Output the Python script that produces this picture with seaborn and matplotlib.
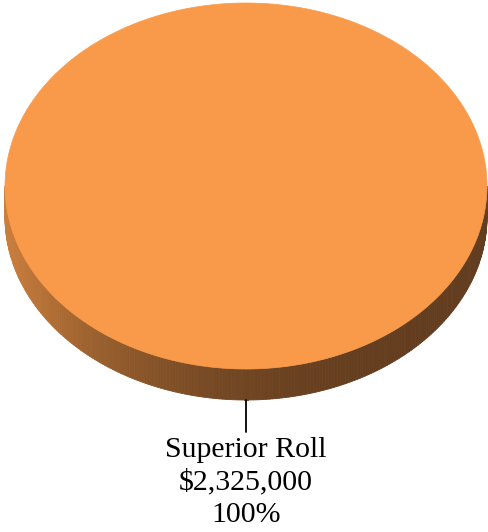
import numpy as np
import matplotlib
matplotlib.use("Agg")
import matplotlib.pyplot as plt
from matplotlib.patches import Polygon
import seaborn as sns

# data
labels = ["Superior Roll"]
values = [2325000]
top_colors = ["#F99A4A"]

sns.set_theme(style="white")
plt.rcParams["font.family"] = ["Liberation Serif", "DejaVu Serif"]

fig = plt.figure(figsize=(4.89, 5.32), dpi=100)
ax = fig.add_axes([0, 0, 1, 1])
ax.set_xlim(0, 489)
ax.set_ylim(0, 532)
ax.axis("off")

# pie geometry (pixels, y up)
cx, cy = 246, 346
rx, ry = 241, 183
depth = 31

total = float(sum(values))
fracs = [v / total for v in values]
starts = np.cumsum([0] + fracs[:-1]) * 360

def side_shade(theta):
    # lighter on the left, darker toward the right
    t = (1 - np.cos(np.radians(theta))) / 2  # 1 at left, 0 at right
    dark = np.array([0.39, 0.24, 0.12])
    light = np.array([0.80, 0.50, 0.24])
    w = t ** 3
    return tuple(dark * (1 - w) + light * w)

for frac, st, col in zip(fracs, starts, top_colors):
    a0, a1 = st, st + frac * 360
    # front side wall (angles in 180..360)
    lo, hi = max(a0, 180), min(a1, 360)
    if hi > lo:
        th = np.linspace(lo, hi, 240)
        for i in range(len(th) - 1):
            t0, t1 = np.radians(th[i]), np.radians(th[i + 1])
            x0, y0 = cx + rx * np.cos(t0), cy + ry * np.sin(t0)
            x1, y1 = cx + rx * np.cos(t1), cy + ry * np.sin(t1)
            quad = [(x0, y0), (x1, y1), (x1, y1 - depth), (x0, y0 - depth)]
            c = side_shade((th[i] + th[i + 1]) / 2)
            ax.add_patch(Polygon(quad, closed=True, facecolor=c,
                                 edgecolor=c, linewidth=0.6))
    # top face
    th = np.radians(np.linspace(a0, a1, 400))
    pts = list(zip(cx + rx * np.cos(th), cy + ry * np.sin(th)))
    if frac < 1:
        pts = [(cx, cy)] + pts
    ax.add_patch(Polygon(pts, closed=True, facecolor=col, edgecolor=col,
                         linewidth=0.5, zorder=3))

    # leader line and label
    mid = np.radians((a0 + a1) / 2 if frac < 1 else 270)
    bx, by = cx + rx * np.cos(mid), cy + ry * np.sin(mid) - depth
    ax.plot([bx, bx], [by, by - 32], color="black", linewidth=1.3)
    pct = frac * 100
    txt = f"{labels[0]}\n${values[0]:,.0f}\n{pct:.0f}%"
    ax.text(bx, by - 37, txt, ha="center", va="top", fontsize=21.5,
            linespacing=1.3, color="black")

fig.savefig("out.png", dpi=100)
